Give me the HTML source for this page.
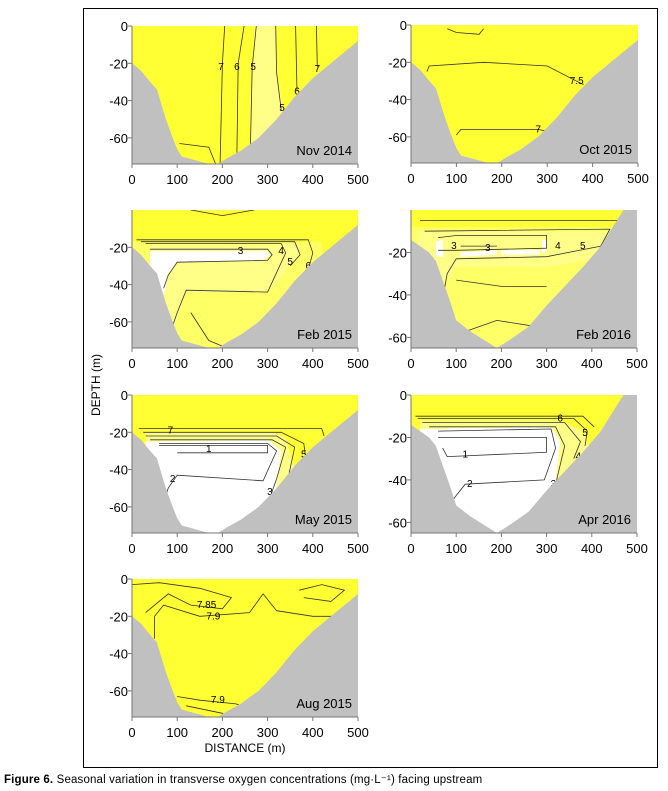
<!DOCTYPE html>
<html><head><meta charset="utf-8"><style>
body{margin:0;background:#fff;}
svg{display:block;font-family:"Liberation Sans",sans-serif;}
</style></head><body>
<svg id="fig" width="668" height="791" viewBox="0 0 668 791">
<rect x="83.5" y="8.5" width="574" height="759" fill="none" stroke="#000" stroke-width="1"/>
<text x="100" y="385" transform="rotate(-90 100 385)" text-anchor="middle" font-size="12">DEPTH (m)</text>
<text x="245" y="752" text-anchor="middle" font-size="12">DISTANCE (m)</text>
<text x="4" y="783" font-size="11.5" letter-spacing="0.15"><tspan font-weight="bold">Figure 6.</tspan> Seasonal variation in transverse oxygen concentrations (mg·L⁻¹) facing upstream</text>
</svg>
<script>
// ---- data ----
const xTicks=[0,100,200,300,400,500];
const yTicksDeep=[0,-20,-40,-60];
const bathyDeepX=[0,20,40,55,65,75,90,100,110,140,170,190,210,240,280,320,360,400,440,480,500];
const bathyDeepD=[-20,-24,-30,-34,-42,-50,-60,-66,-70,-72,-74,-74,-71,-67,-60,-50,-38,-28,-20,-12,-8];
const bathyShallowX=[0,20,40,55,70,85,100,130,160,190,220,260,300,340,380,420,470,500];
const bathyShallowD=[-14,-17,-20,-24,-33,-42,-52,-57,-61,-65,-61,-55,-45,-36,-27,-17,0,0];
const panelNames=["Nov 2014","Oct 2015","Feb 2015","Feb 2016","May 2015","Apr 2016","Aug 2015"];
const C1="#ffff33",C2="#ffff66",C3="#ffff88",CW="#ffffff";
const regions=[
 [[C3,[[272,0],[318,0],[320,-25],[335,-45],[300,-70],[262,-70],[262,-40]]]],
 [],
 [[C2,[[0,-17],[420,-17],[420,-80],[0,-80]]],[C3,[[40,-18],[370,-18],[372,-24],[300,-44],[120,-44],[100,-58],[90,-70],[40,-70]]],[CW,[[40,-22],[300,-22],[305,-24],[290,-27],[100,-28],[80,-34],[72,-45],[40,-45]]]],
 [[C2,[[0,-8],[500,-8],[500,-80],[0,-80]]],[C3,[[15,-10],[440,-10],[440,-22],[300,-27],[100,-27],[80,-34],[15,-34]]],[CW,[[55,-15],[70,-14],[72,-22],[55,-22]]],[CW,[[110,-20],[190,-19],[190,-21],[110,-22]]],[CW,[[200,-19],[285,-19],[285,-21],[200,-21]]],[CW,[[290,-14],[300,-14],[300,-20],[290,-20]]]],
 [[C3,[[30,-20],[310,-20],[340,-23],[360,-40],[330,-70],[30,-70]]],[CW,[[30,-25],[300,-24],[330,-30],[320,-48],[300,-75],[30,-75]]]],
 [[C3,[[20,-12],[330,-12],[380,-17],[400,-28],[330,-70],[20,-70]]],[CW,[[20,-16],[310,-15],[330,-22],[320,-40],[300,-70],[20,-70]]]],
 []
];
const lines=[
 [["7",197,-22,[[205,0],[200,-20],[195,-74]]],["6",232,-22,[[248,0],[235,-20],[232,-68]]],["5",268,-22,[[275,0],[266,-22],[262,-65]]],["5",332,-44,[[318,0],[320,-25],[330,-45]]],["6",365,-35,[[362,0],[365,-35]]],["7",410,-23,[[408,0],[410,-22]]],["",0,0,[[105,-63],[170,-65],[185,-74]]]],
 [["7.5",365,-30,[[35,-25],[40,-22],[160,-20],[300,-22],[380,-32]]],["7",280,-56,[[100,-59],[110,-56],[280,-56],[300,-57]]],["",0,0,[[80,-2],[100,-4],[150,-5],[160,-2]]]],
 [["3",240,-22,[[40,-21],[300,-21],[310,-24],[300,-27],[100,-28],[80,-35],[70,-42]]],["4",330,-22,[[30,-18],[330,-18],[340,-23],[300,-44],[120,-43],[100,-55],[90,-62]]],["5",350,-28,[[20,-17],[360,-17],[372,-24],[350,-30]]],["6",390,-30,[[10,-16],[390,-16],[400,-23],[390,-32]]],["",0,0,[[130,-55],[170,-70],[210,-74]]],["",0,0,[[130,0],[200,-3],[270,0]]]],
 [["3",95,-17,[[60,-13],[100,-12],[300,-12],[300,-18],[100,-19],[60,-19]]],["3",170,-18,[[110,-17],[190,-17]]],["4",325,-17,[[30,-10],[440,-9],[420,-17],[300,-22],[100,-23],[80,-30],[70,-42]]],["5",380,-17,[[20,-5],[460,-5],[440,-17],[400,-28]]],["",0,0,[[100,-33],[200,-36],[300,-36]]],["",0,0,[[110,-58],[190,-52],[280,-55]]]],
 [["1",170,-29,[[60,-27],[300,-27],[300,-31],[100,-31]]],["2",90,-45,[[60,-26],[300,-26],[320,-30],[290,-46],[100,-43],[80,-50],[60,-65]]],["3",305,-52,[[40,-24],[310,-24],[340,-28],[320,-45],[305,-55]]],["4",350,-43,[[30,-22],[320,-22],[360,-28],[345,-45]]],["5",380,-32,[[25,-20],[330,-20],[380,-26],[385,-35]]],["7",85,-19,[[15,-18],[420,-18],[425,-22]]]],
 [["1",120,-28,[[70,-25],[80,-29],[300,-27],[300,-20],[60,-20]]],["2",130,-42,[[60,-17],[310,-16],[320,-25],[295,-40],[120,-42],[90,-50]]],["3",315,-42,[[40,-15],[320,-15],[340,-24],[320,-42]]],["4",370,-29,[[25,-13],[340,-13],[375,-22],[360,-30]]],["5",385,-18,[[15,-11],[360,-11],[390,-17],[385,-24]]],["6",330,-11,[[10,-10],[380,-10],[405,-15]]]],
 [["7.85",165,-14,[[0,-3],[60,-2],[150,-5],[220,-10],[200,-16],[130,-14],[80,-8],[30,-18]]],["7.9",180,-20,[[50,-32],[50,-20],[70,-14],[150,-20],[260,-18],[290,-8],[320,-17],[400,-20],[480,-20]]],["",0,0,[[370,-6],[420,-3],[470,-6],[440,-12],[380,-10]]],["7.9",190,-65,[[100,-63],[150,-65],[230,-67],[240,-68]]],["",0,0,[[120,-68],[200,-72],[210,-74]]]]
];
const layout=[
 {x0:132,x1:358,y0:26,y1:164,dmax:74,ticks:true,deep:true},
 {x0:411,x1:638,y0:25,y1:163,dmax:74,ticks:true,deep:true},
 {x0:132,x1:358,y0:210,y1:348,dmax:74,ticks:false,deep:true},
 {x0:411,x1:637,y0:210,y1:348,dmax:65,ticks:false,deep:false},
 {x0:132,x1:358,y0:395,y1:533,dmax:74,ticks:true,deep:true},
 {x0:411,x1:637,y0:395,y1:533,dmax:65,ticks:true,deep:false},
 {x0:132,x1:358,y0:579,y1:717,dmax:74,ticks:true,deep:true}
];
const NS="http://www.w3.org/2000/svg";
const svg=document.getElementById('fig');
function mk(tag,attrs,parent){const e=document.createElementNS(NS,tag);for(const k in attrs)e.setAttribute(k,attrs[k]);(parent||svg).appendChild(e);return e;}
layout.forEach((L,i)=>{
 const sx=v=>L.x0+(v/500)*(L.x1-L.x0);
 const sy=d=>L.y0+(-d/L.dmax)*(L.y1-L.y0);
 const pts=a=>a.map(p=>sx(p[0]).toFixed(1)+","+sy(p[1]).toFixed(1)).join(" ");
 const g=mk('g',{});
 
 
 const cid='clip'+i;
 const cp=mk('clipPath',{id:cid},g);mk('rect',{x:L.x0,y:L.y0,width:L.x1-L.x0,height:L.y1-L.y0},cp);
 const pg=mk('g',{'clip-path':'url(#'+cid+')'},g);
 const bg=mk('rect',{x:L.x0,y:L.y0,width:L.x1-L.x0,height:L.y1-L.y0,fill:C1},pg);
 
 
 regions[i].forEach(r=>{const p=mk('polygon',{points:pts(r[1]),fill:r[0]},pg);
  
  });
 lines[i].forEach(l=>{const p=mk('polyline',{points:pts(l[3]),fill:'none',stroke:'#333','stroke-width':0.8},pg);
  
  
  if(l[0]){const t=mk('text',{x:sx(l[1]),y:sy(l[2])+3,'font-size':10,'text-anchor':'middle',fill:'#000'},pg);t.textContent=l[0];
   
   }});
 const bx=L.deep?bathyDeepX:bathyShallowX, bd=L.deep?bathyDeepD:bathyShallowD;
 const bp=[[bx[0],-100],...bx.map((x,k)=>[x,bd[k]]),[bx[bx.length-1],-100]];
 const b=mk('polygon',{points:pts(bp),fill:'#c0c0c0'},pg);
 
 
 const ax=mk('g',{stroke:'#777','stroke-width':1},g);
 mk('line',{x1:L.x0,y1:L.y0,x2:L.x0,y2:L.y1+4},ax);
 mk('line',{x1:L.x0,y1:L.y1,x2:L.x1,y2:L.y1},ax);
 xTicks.forEach(v=>{mk('line',{x1:sx(v),y1:L.y1,x2:sx(v),y2:L.y1+4},ax);
  const t=mk('text',{x:sx(v),y:L.y1+20,'font-size':13,'text-anchor':'middle',fill:'#000',stroke:'none'},g);t.textContent=v;
  
  });
 yTicksDeep.forEach(v=>{if(-v>L.dmax)return;if(v===0&&!L.ticks)return;
  mk('line',{x1:L.x0-4,y1:sy(v),x2:L.x0,y2:sy(v)},ax);
  const t=mk('text',{x:L.x0-4,y:sy(v)+5,'font-size':13,'text-anchor':'end',fill:'#000',stroke:'none'},g);t.textContent=v;
  
  });
 const lb=mk('text',{x:L.x1-6,y:L.y1-9,'font-size':13,'text-anchor':'end',fill:'#000'},g);lb.textContent=panelNames[i];
 
 
});
</script>
</body></html>
